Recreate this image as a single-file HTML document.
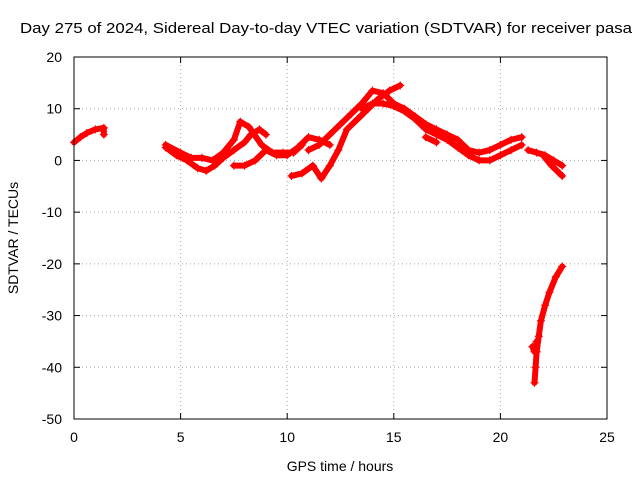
<!DOCTYPE html>
<html><head><meta charset="utf-8"><style>
body{margin:0;background:#fff;font-family:"Liberation Sans",sans-serif}
svg text{font-family:"Liberation Sans",sans-serif;font-size:14px;fill:#000}
</style></head><body>
<svg id="chart" width="640" height="480" xmlns="http://www.w3.org/2000/svg">
<rect width="640" height="480" fill="#fff"/>
<text x="20" y="33" textLength="612" lengthAdjust="spacingAndGlyphs" style="font-size:15px">Day 275 of 2024, Sidereal Day-to-day VTEC variation (SDTVAR) for receiver pasa</text>
<text x="340" y="471" text-anchor="middle">GPS time / hours</text>
<text x="18" y="238" text-anchor="middle" transform="rotate(-90 18 238)">SDTVAR / TECUs</text>
<g id="grid"></g><g id="ticks"></g><g id="marks"></g>
<rect x="74" y="57" width="533" height="362" fill="none" stroke="#000"/>
</svg>
<script>
const xTicks=[0,5,10,15,20,25];
const yTicks=[20,10,0,-10,-20,-30,-40,-50];
const track1=[[0,3.5],[0.3,4.5],[0.6,5.3],[1.0,6],[1.4,6.3],[1.4,5]];
const track2=[[4.3,2.5],[4.8,1],[5.3,0],[5.8,-1.5],[6.2,-2],[6.6,-1],[7,0.5],[7.5,2],[8,3.5],[8.3,5],[8.7,6],[9.0,5]];
const track3=[[4.3,3],[5,1.5],[5.5,0.5],[6,0.5],[6.5,0],[7,1.5],[7.5,4],[7.8,7.5],[8.2,6.5],[8.8,3],[9.3,1.5],[9.8,1.5],[10.3,1.5],[10.7,3]];
const track4=[[7.5,-1],[8,-1],[8.5,0],[9,2],[9.5,1],[10,1],[10.5,2.5],[11,4.5],[11.5,4],[12,3]];
const track5=[[10.2,-3],[10.7,-2.5],[11.2,-1],[11.6,-3.5],[12,-1],[12.4,2],[12.8,6],[13.3,8],[13.8,10],[14.3,12],[14.8,13.5],[15.3,14.5]];
const track6=[[11,2],[11.5,3],[12,5],[12.5,7],[13,9],[13.5,11],[14,13.5],[14.5,13],[15,11],[15.5,10],[16,8.5],[16.5,7],[17,6],[17.5,5],[18,4],[18.5,2],[19,1.5],[19.5,2],[20,3],[20.5,4],[21,4.5]];
const track7=[[13.5,10],[14,11],[14.5,11],[15,10.5],[15.5,9.5],[16,8],[16.5,6],[17,5],[17.5,4],[18,2.5],[18.5,1],[19,0],[19.5,0],[20,1],[20.5,2],[21,3]];
const track8=[[16.5,4.5],[17,3.5]];
const track9=[[21.3,2],[21.7,1.5],[22.1,1],[22.5,0],[22.9,-1]];
const track10=[[22,1],[22.4,-1],[22.9,-3]];
const track11=[[21.6,-43],[21.65,-40],[21.7,-37],[21.8,-34],[21.9,-31],[22.1,-28],[22.3,-25.5],[22.6,-22.5],[22.9,-20.5]];
const track12=[[21.5,-36],[21.6,-37],[21.7,-35]];
const tracks=[track1,track2,track3,track4,track5,track6,track7,track8,track9,track10,track11,track12];
const X0=74,X1=607,Y0=419,Y1=57;
const sx=v=>X0+(v-0)/25*(X1-X0);
const sy=v=>Y0-(v+50)/70*(Y0-Y1);
const NS="http://www.w3.org/2000/svg";
function mk(t,a,p){const e=document.createElementNS(NS,t);for(const k in a)e.setAttribute(k,a[k]);p.appendChild(e);return e;}
const grid=document.getElementById('grid'),ticks=document.getElementById('ticks'),marks=document.getElementById('marks');
xTicks.forEach(v=>{const x=sx(v);
 if(v>0&&v<25){const l=mk('line',{x1:x,x2:x,y1:Y1,y2:Y0,stroke:'#aaa','stroke-dasharray':'1,3'},grid);
 }
 mk('line',{x1:x,x2:x,y1:Y0,y2:Y0-6,stroke:'#000'},ticks);mk('line',{x1:x,x2:x,y1:Y1,y2:Y1+6,stroke:'#000'},ticks);
 const t=mk('text',{x:x,y:Y0+23,'text-anchor':'middle'},ticks);t.textContent=v;
 });
yTicks.forEach(v=>{const y=sy(v);
 if(v>-50&&v<20){const l=mk('line',{x1:X0,x2:X1,y1:y,y2:y,stroke:'#aaa','stroke-dasharray':'1,3'},grid);
 }
 mk('line',{x1:X0,x2:X0+6,y1:y,y2:y,stroke:'#000'},ticks);mk('line',{x1:X1,x2:X1-6,y1:y,y2:y,stroke:'#000'},ticks);
 const t=mk('text',{x:X0-12,y:y+5,'text-anchor':'end'},ticks);t.textContent=v;
 });
tracks.forEach((tr,i)=>{
 const g=mk('g',{},marks);
 
 
 mk('polyline',{points:tr.map(p=>sx(p[0])+','+sy(p[1])).join(' '),fill:'none',stroke:'#f00','stroke-width':6,'stroke-linejoin':'round','stroke-linecap':'round'},g);
 tr.forEach(p=>{const x=sx(p[0]),y=sy(p[1]);
  const m=mk('path',{d:`M${x-4},${y}H${x+4}M${x},${y-4}V${y+4}`,stroke:'#f00','stroke-width':1.2},g);
  
  });
});
</script>
</body></html>
